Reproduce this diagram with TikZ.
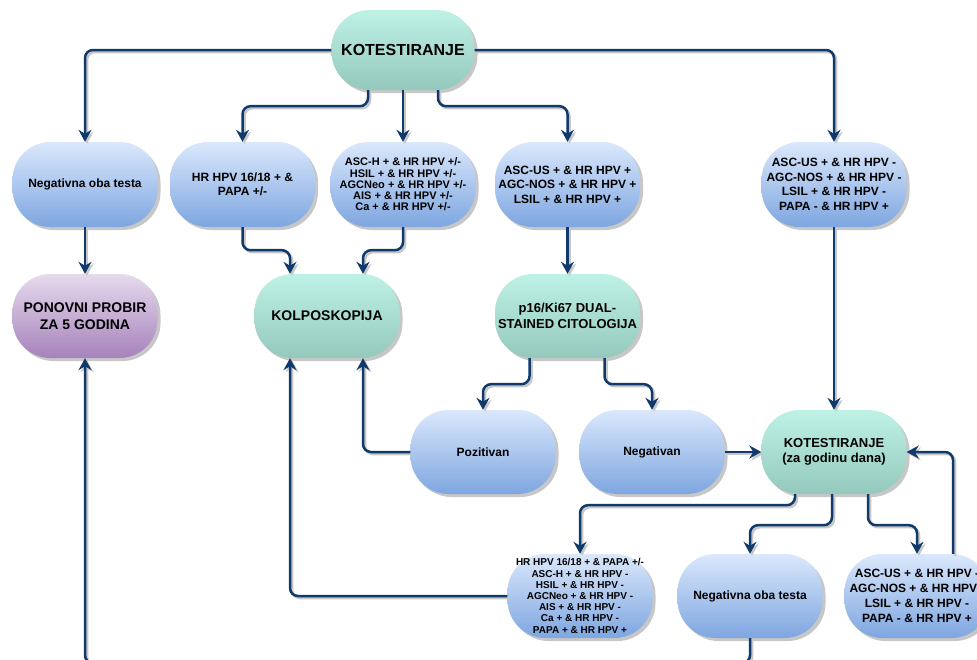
\documentclass[tikz,border=0pt]{standalone}
\usepackage{fontspec}
\setmainfont{Liberation Sans}
\usetikzlibrary{shadows,arrows.meta}
\definecolor{linec}{HTML}{0F3A6B}
\definecolor{bluetop}{HTML}{DAE8FC}
\definecolor{bluebot}{HTML}{7EA6E0}
\definecolor{greentop}{HTML}{BFF2E6}
\definecolor{greenbot}{HTML}{95C8BC}
\definecolor{purptop}{HTML}{E6DAED}
\definecolor{purpbot}{HTML}{A682BB}
\newcommand{\fs}[2]{\fontsize{#1}{#2}\selectfont\bfseries}
\begin{document}
\begin{tikzpicture}[x=1pt,y=-1pt,
  box/.style={rectangle, rounded corners=38pt, minimum width=145pt, minimum height=85pt,
    inner sep=1pt, align=center, text=black,
    drop shadow={shadow xshift=3pt, shadow yshift=-3pt, fill=black, opacity=0.22}},
  bluebox/.style={box, top color=bluetop, bottom color=bluebot},
  greenbox/.style={box, top color=greentop, bottom color=greenbot},
  purpbox/.style={box, top color=purptop, bottom color=purpbot},
  conn/.style={draw=linec, line width=2.5pt, rounded corners=8pt,
    -{Stealth[length=12pt,width=13pt,inset=4pt]},
    preaction={draw=black!22, line width=2.5pt, transform canvas={shift={(2pt,-2pt)}}}}
]
\useasboundingbox (0,0) rectangle (977,659);
\fill[white] (0,0) rectangle (977,659);

% nodes
\node[greenbox, minimum width=143pt, minimum height=80pt, font=\fs{16}{19}] (top) at (403,50) {KOTESTIRANJE};

\node[bluebox, font=\fs{12}{14.4}] (neg1) at (85,184.5) {Negativna oba testa};
\node[bluebox, font=\fs{12}{14.4}] (hr1) at (242.5,184.5) {HR HPV 16/18 + \&\\PAPA +/-};
\node[bluebox, font=\fs{11}{11.2}] (asch) at (403,184.5) {ASC-H + \& HR HPV +/-\\HSIL + \& HR HPV +/-\\AGCNeo + \& HR HPV +/-\\AIS + \& HR HPV +/-\\Ca + \& HR HPV +/-};
\node[bluebox, font=\fs{12}{14.4}] (ascus) at (567.5,184.5) {ASC-US + \& HR HPV +\\AGC-NOS + \& HR HPV +\\LSIL + \& HR HPV +};
\node[bluebox, font=\fs{12}{14.5}] (ascusm) at (834,184.5) {ASC-US + \& HR HPV -\\AGC-NOS + \& HR HPV -\\LSIL + \& HR HPV -\\PAPA - \& HR HPV +};

\node[purpbox, minimum height=84pt, font=\fs{14}{17}] (pono) at (85,316) {PONOVNI PROBIR\\ZA 5 GODINA};
\node[greenbox, minimum height=84pt, font=\fs{14}{17}] (kolpo) at (327,316) {KOLPOSKOPIJA};
\node[greenbox, minimum height=84pt, font=\fs{13}{15.5}] (p16) at (567.5,316) {p16/Ki67 DUAL-\\STAINED CITOLOGIJA};

\node[bluebox, minimum height=84pt, font=\fs{12}{14.4}] (poz) at (483,452) {Pozitivan};
\node[bluebox, minimum height=84pt, font=\fs{12}{14.4}] (negv) at (652,452) {Negativan};
\node[greenbox, minimum height=84pt, font=\fs{13}{15.5}] (kot2) at (834,452) {KOTESTIRANJE\\(za godinu dana)};

\node[bluebox, minimum height=84pt, font=\fs{10}{11.2}] (list5) at (580,596) {HR HPV 16/18 + \& PAPA +/-\\ASC-H + \& HR HPV -\\HSIL + \& HR HPV -\\AGCNeo + \& HR HPV -\\AIS + \& HR HPV -\\Ca + \& HR HPV -\\PAPA + \& HR HPV +};
\node[bluebox, minimum height=84pt, font=\fs{12}{14.4}] (neg5) at (750,596) {Negativna oba testa};
\node[bluebox, minimum height=84pt, font=\fs{12}{15}] (right5) at (917,596) {ASC-US + \& HR HPV -\\AGC-NOS + \& HR HPV -\\LSIL + \& HR HPV -\\PAPA - \& HR HPV +};

% connectors
\draw[conn] (top.west) -| (neg1.north);
\draw[conn] (top.east) -| (ascusm.north);
\draw[conn] ([xshift=-35pt]top.south) -- ++(0,16) -| (hr1.north);
\draw[conn] (top.south) -- (asch.north);
\draw[conn] ([xshift=35pt]top.south) -- ++(0,16) -| (ascus.north);

\draw[conn] (neg1.south) -- (pono.north);
\draw[conn] (hr1.south) -- ++(0,23) -| ([xshift=-37pt]kolpo.north);
\draw[conn] (asch.south) -- ++(0,23) -| ([xshift=36pt]kolpo.north);
\draw[conn] (ascus.south) -- (p16.north);

\draw[conn] ([xshift=-38pt]p16.south) -- ++(0,26) -| (poz.north);
\draw[conn] ([xshift=37pt]p16.south) -- ++(0,26) -| (negv.north);

\draw[conn] (poz.west) -| ([xshift=36pt]kolpo.south);
\draw[conn] (list5.west) -| ([xshift=-37pt]kolpo.south);
\draw[conn] (negv.east) -- (kot2.west);
\draw[conn] (ascusm.south) -- (kot2.north);

\draw[conn] ([xshift=-39pt]kot2.south) -- ++(0,11) -| (list5.north);
\draw[conn] ([xshift=-2pt]kot2.south) -- ++(0,31) -| (neg5.north);
\draw[conn] ([xshift=34pt]kot2.south) -- ++(0,31) -| (right5.north);
\draw[conn] ([xshift=36pt]right5.north) |- (kot2.east);
\draw[conn] (neg5.south) -- ++(0,25) -| (pono.south);
\end{tikzpicture}
\end{document}
